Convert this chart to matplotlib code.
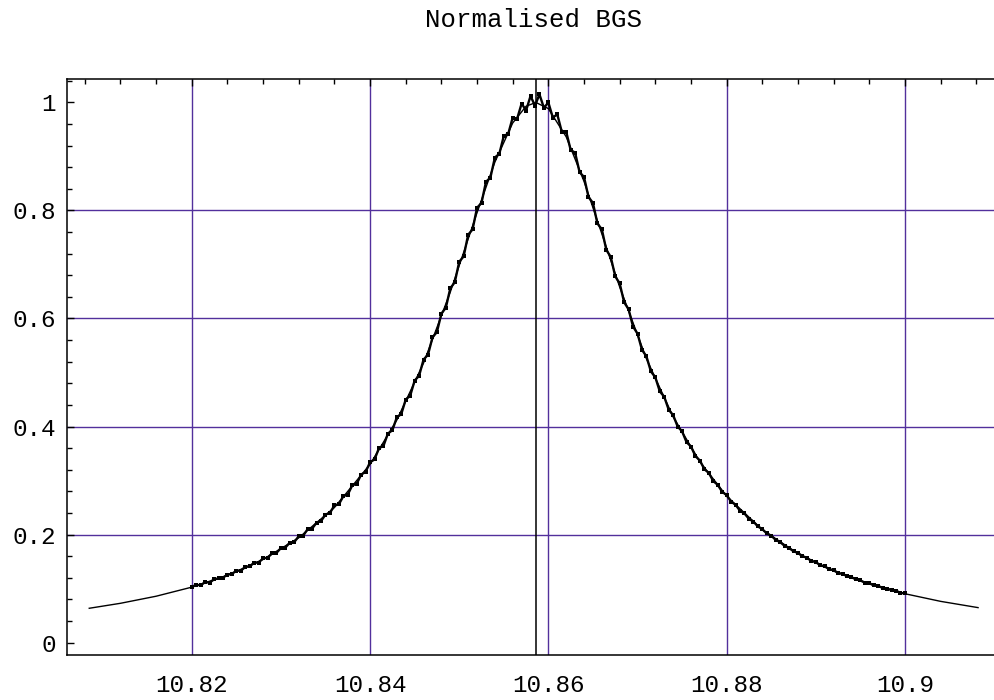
import numpy as np
import matplotlib
matplotlib.use('Agg')
import matplotlib.pyplot as plt
from matplotlib.ticker import MultipleLocator, FuncFormatter

# Measured (normalised) Brillouin gain spectrum, uniform sweep 10.82 .. 10.90 GHz
sweep_start = 10.820
sweep_stop = 10.900
sweep_count = 161
bgs_values = [
    0.103, 0.107, 0.106, 0.112, 0.111, 0.117, 0.119, 0.120, 0.126, 0.127,
    0.133, 0.133, 0.140, 0.141, 0.148, 0.148, 0.156, 0.157, 0.165, 0.166,
    0.175, 0.176, 0.185, 0.186, 0.197, 0.198, 0.210, 0.211, 0.222, 0.225,
    0.237, 0.240, 0.254, 0.256, 0.271, 0.274, 0.291, 0.294, 0.311, 0.316,
    0.334, 0.339, 0.360, 0.364, 0.387, 0.393, 0.417, 0.423, 0.450, 0.457,
    0.485, 0.494, 0.524, 0.533, 0.565, 0.575, 0.609, 0.620, 0.656, 0.667,
    0.705, 0.715, 0.755, 0.765, 0.805, 0.814, 0.853, 0.861, 0.898, 0.905,
    0.938, 0.942, 0.972, 0.970, 0.998, 0.985, 1.012, 0.994, 1.015, 0.990,
    1.000, 0.972, 0.978, 0.946, 0.946, 0.912, 0.907, 0.871, 0.862, 0.825,
    0.814, 0.776, 0.765, 0.727, 0.714, 0.678, 0.665, 0.630, 0.617, 0.585,
    0.572, 0.542, 0.530, 0.502, 0.491, 0.465, 0.455, 0.431, 0.421, 0.400,
    0.391, 0.371, 0.363, 0.345, 0.337, 0.321, 0.314, 0.299, 0.292, 0.279,
    0.273, 0.261, 0.255, 0.244, 0.239, 0.229, 0.224, 0.215, 0.210, 0.202,
    0.198, 0.190, 0.186, 0.179, 0.175, 0.169, 0.166, 0.160, 0.157, 0.151,
    0.149, 0.143, 0.141, 0.136, 0.134, 0.129, 0.127, 0.123, 0.121, 0.117,
    0.115, 0.111, 0.110, 0.106, 0.105, 0.101, 0.100, 0.097, 0.096, 0.092,
    0.091,
]

# Fitted curve
fit_freq = [10.8085, 10.812, 10.816, 10.820, 10.824, 10.828, 10.832, 10.836,
            10.840, 10.843, 10.846, 10.849, 10.852, 10.854, 10.856, 10.8575,
            10.8586, 10.860, 10.862, 10.864, 10.866, 10.868, 10.871, 10.874,
            10.877, 10.880, 10.884, 10.888, 10.892, 10.896, 10.900, 10.904,
            10.9082]
fit_values = [0.0635, 0.0727, 0.0858, 0.1026, 0.1245, 0.1539, 0.194, 0.250,
              0.330, 0.412, 0.5175, 0.649, 0.796, 0.8895, 0.962, 0.993,
              1.000, 0.9886, 0.9364, 0.8538, 0.7567, 0.6584, 0.5255, 0.418,
              0.3347, 0.2711, 0.2089, 0.1646, 0.1324, 0.1085, 0.0904, 0.0763,
              0.0647]

peak_freq = 10.8586

x_ticks = [10.82, 10.84, 10.86, 10.88, 10.90]
y_ticks = [0, 0.2, 0.4, 0.6, 0.8, 1.0]
y_grid = [0.2, 0.4, 0.6, 0.8]

grid_color = '#52309c'
font = 'Liberation Mono'

fig = plt.figure(figsize=(9.95, 7.0), dpi=100)
ax = fig.add_axes([0.0673, 0.0643, 0.9387, 0.8229])

freq = np.linspace(sweep_start, sweep_stop, sweep_count)

for xv in x_ticks:
    ax.axvline(xv, color=grid_color, lw=1.0, zorder=1)
for yv in y_grid:
    ax.axhline(yv, color=grid_color, lw=1.0, zorder=1)

ax.axvline(peak_freq, color='black', lw=1.1, zorder=2)
ax.plot(fit_freq, fit_values, color='black', lw=1.0, zorder=3)
ax.plot(freq, bgs_values, color='black', lw=1.7, zorder=4)
ax.scatter(freq, bgs_values, marker='s', s=12, color='black', lw=0, zorder=5)

ax.set_xlim(10.806, 10.91077)
ax.set_ylim(-0.023, 1.0435)

ax.set_xticks(x_ticks)
ax.set_yticks(y_ticks)
ax.xaxis.set_minor_locator(MultipleLocator(0.004))
ax.yaxis.set_minor_locator(MultipleLocator(0.04))
ax.xaxis.set_major_formatter(FuncFormatter(lambda v, p: f'{v:g}'))
ax.yaxis.set_major_formatter(FuncFormatter(lambda v, p: f'{v:g}'))

ax.tick_params(which='both', direction='in', top=True, right=True, bottom=False,
               width=1.0, colors='black')
ax.tick_params(which='major', length=5)
ax.tick_params(which='minor', length=3.5)
ax.tick_params(axis='x', pad=14)
ax.tick_params(axis='y', pad=8)
for lbl in ax.get_xticklabels() + ax.get_yticklabels():
    lbl.set_fontfamily(font)
    lbl.set_fontsize(17.5)

for sp in ax.spines.values():
    sp.set_linewidth(1.1)

fig.text(0.5357, 1 - 20 / 700, 'Normalised BGS', ha='center', va='center',
         fontfamily=font, fontsize=18.5)

plt.savefig('out.png', dpi=100)
plt.close()
